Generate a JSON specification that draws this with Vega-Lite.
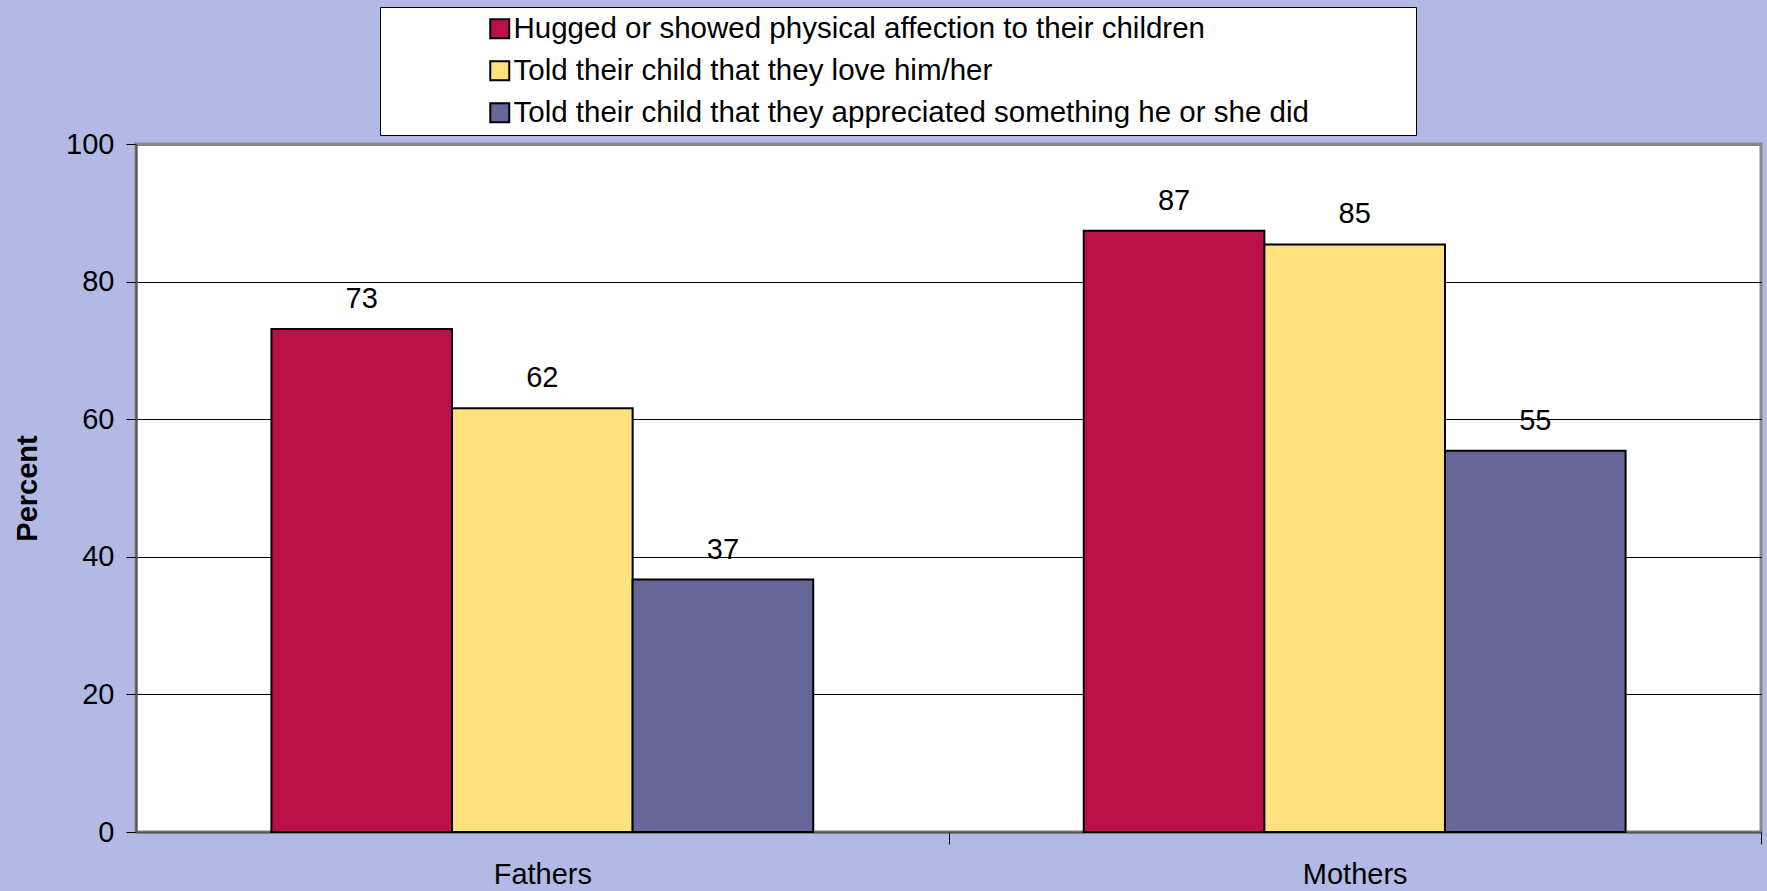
{
  "$schema": "https://vega.github.io/schema/vega-lite/v6.json",
  "width": 1625,
  "height": 688,
  "autosize": {"type": "none"},
  "padding": {"left": 136, "top": 144, "right": 6, "bottom": 59},
  "background": "#B3B9E5",
  "config": {
    "font": "Liberation Sans",
    "view": {"fill": "white", "stroke": "#888888", "strokeWidth": 3},
    "axis": {"labelFont": "Liberation Sans", "titleFont": "Liberation Sans", "labelColor": "black", "titleColor": "black"}
  },
  "data": {
    "values": [
      {"group": "Fathers", "series": "Hugged or showed physical affection to their children", "value": 73.1},
      {"group": "Fathers", "series": "Told their child that they love him/her", "value": 61.6},
      {"group": "Fathers", "series": "Told their child that they appreciated something he or she did", "value": 36.7},
      {"group": "Mothers", "series": "Hugged or showed physical affection to their children", "value": 87.4},
      {"group": "Mothers", "series": "Told their child that they love him/her", "value": 85.4},
      {"group": "Mothers", "series": "Told their child that they appreciated something he or she did", "value": 55.4}
    ]
  },
  "encoding": {
    "x": {
      "field": "group", "type": "nominal",
      "scale": {"paddingInner": 0.333, "paddingOuter": 0.1667},
      "axis": {
        "title": null, "labelAngle": 0, "labelFontSize": 29, "labelPadding": 16,
        "tickOffset": 406.25, "labelOffset": -406.25, "tickSize": 12, "tickColor": "black", "tickWidth": 1,
        "domainColor": "#555555", "domainWidth": 2, "grid": false
      }
    },
    "xOffset": {
      "field": "series", "type": "nominal",
      "sort": ["Hugged or showed physical affection to their children", "Told their child that they love him/her", "Told their child that they appreciated something he or she did"],
      "scale": {"paddingInner": 0, "paddingOuter": 0}
    },
    "y": {
      "field": "value", "type": "quantitative",
      "scale": {"domain": [0, 100], "nice": false},
      "axis": {
        "title": "Percent", "titleFontSize": 29, "titleFontWeight": "bold", "titlePadding": 23,
        "values": [0, 20, 40, 60, 80, 100], "labelFontSize": 29, "labelPadding": 12,
        "tickSize": 10, "tickColor": "black", "tickWidth": 1,
        "domainColor": "#555555", "domainWidth": 2,
        "grid": true,
        "gridColor": {"expr": "datum.value === 100 ? '#888888' : 'black'"},
        "gridWidth": {"expr": "datum.value === 100 ? 3 : 1"}
      }
    }
  },
  "layer": [
    {
      "mark": {"type": "bar", "stroke": "black", "strokeWidth": 2},
      "encoding": {
        "color": {
          "field": "series", "type": "nominal",
          "sort": ["Hugged or showed physical affection to their children", "Told their child that they love him/her", "Told their child that they appreciated something he or she did"],
          "scale": {
            "domain": ["Hugged or showed physical affection to their children", "Told their child that they love him/her", "Told their child that they appreciated something he or she did"],
            "range": ["#BA1048", "#FFE27E", "#666699"]
          },
          "legend": {
            "title": "\u00a0", "titleOrient": "right", "titlePadding": 100, "titleFontSize": 10,
            "orient": "none", "legendX": 244, "legendY": -137,
            "direction": "vertical",
            "fillColor": "white", "strokeColor": "black",
            "padding": 7, "symbolOffset": 98,
            "symbolType": "square", "symbolSize": 361, "symbolStrokeColor": "black", "symbolStrokeWidth": 2,
            "labelFontSize": 29.5, "labelFont": "Liberation Sans", "labelColor": "black", "labelLimit": 1200,
            "labelOffset": -1, "rowPadding": 11
          }
        }
      }
    },
    {
      "mark": {"type": "text", "fontSize": 29, "baseline": "alphabetic", "dy": -21, "color": "black", "font": "Liberation Sans"},
      "encoding": {
        "text": {"field": "value", "type": "quantitative", "format": ".0f"}
      }
    }
  ]
}
